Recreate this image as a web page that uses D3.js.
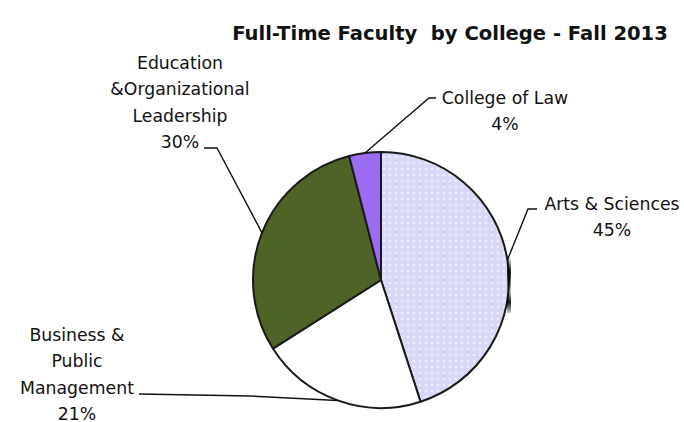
<!DOCTYPE html>
<html lang="en">
<head>
<meta charset="UTF-8">
<title>Full-Time Faculty by College - Fall 2013</title>
<style>
    body { margin: 0; padding: 0; background: #fff; }
    svg { display: block; }
    .lbl { font-family: "DejaVu Sans", "Open Sans", sans-serif; font-size: 17.3px; fill: #111; }
    .title { font-family: "DejaVu Sans", "Open Sans", sans-serif; font-size: 18px; font-weight: bold; fill: #111; }
    .leader { fill: none; stroke: #111; stroke-width: 1.4; }
</style>
</head>
<body>
<div id="chart"></div>
<script src="https://d3js.org/d3.v7.min.js"></script>
<script>
    // data
    const colleges = ["Arts & Sciences", "Business & Public Management", "Education &Organizational Leadership", "College of Law"];
    const shares = [45, 21, 30, 4];
    const labelLines = [
        ["Arts & Sciences", "45%"],
        ["Business &", "Public", "Management", "21%"],
        ["Education", "&Organizational", "Leadership", "30%"],
        ["College of Law", "4%"]
    ];
    const fills = ["url(#dots)", "#ffffff", "#4f6228", "#9b6cf2"];

    const width = 684, height = 422;
    const cx = 381, cy = 280, r = 128;

    // where each label block sits (centre x, first baseline) and where its leader bends
    const labelPos = [
        { x: 612, y: 210, elbow: [[537, 209], [528, 209]] },
        { x: 77, y: 341, elbow: [[139, 394], [250, 396]] },
        { x: 180, y: 69, elbow: [[204, 148], [217, 148]] },
        { x: 505, y: 104, elbow: [[436, 98], [429, 98]] }
    ];
    const lineGap = 26.4;

    const svg = d3.select("#chart").append("svg")
        .attr("width", width)
        .attr("height", height);

    const defs = svg.append("defs");
    const pat = defs.append("pattern")
        .attr("id", "dots")
        .attr("patternUnits", "userSpaceOnUse")
        .attr("width", 6).attr("height", 6);
    pat.append("rect").attr("width", 6).attr("height", 6).attr("fill", "#d7d7f6");
    pat.append("circle").attr("cx", 3).attr("cy", 3).attr("r", 1.3).attr("fill", "#eeeefc");

    const grad = defs.append("linearGradient")
        .attr("id", "edge")
        .attr("x1", 0).attr("y1", 0).attr("x2", 0).attr("y2", 1);
    grad.append("stop").attr("offset", "0%").attr("stop-color", "#000").attr("stop-opacity", 0.1);
    grad.append("stop").attr("offset", "25%").attr("stop-color", "#000").attr("stop-opacity", 0.9);
    grad.append("stop").attr("offset", "60%").attr("stop-color", "#000").attr("stop-opacity", 0.2);
    grad.append("stop").attr("offset", "80%").attr("stop-color", "#000").attr("stop-opacity", 0.9);
    grad.append("stop").attr("offset", "100%").attr("stop-color", "#000").attr("stop-opacity", 0.2);

    const title = svg.append("text")
        .attr("class", "title")
        .attr("x", 450)
        .attr("y", 40)
        .attr("text-anchor", "middle")
        .attr("xml:space", "preserve")
        .text("Full-Time Faculty  by College - Fall 2013");
    // the title runs from about x=232 to x=668 in the original
    const tw = title.node().getComputedTextLength();
    if (tw > 0) title.style("font-size", (18 * 436 / tw).toFixed(2) + "px");

    const pie = d3.pie().sort(null).value(d => d)(shares);
    const arc = d3.arc().innerRadius(0).outerRadius(r);
    const edgeArc = d3.arc().innerRadius(r).outerRadius(r);

    const g = svg.append("g").attr("transform", `translate(${cx},${cy})`);

    g.selectAll("path.slice")
        .data(pie)
        .enter()
        .append("path")
        .attr("class", "slice")
        .attr("d", arc)
        .attr("fill", (d, i) => fills[i])
        .attr("stroke", "#1a1a1a")
        .attr("stroke-width", 2)
        .attr("stroke-linejoin", "round");

    // dark smudge on the right rim, as in the scan
    svg.append("rect")
        .attr("x", 507).attr("y", 258)
        .attr("width", 4).attr("height", 55)
        .attr("fill", "url(#edge)");

    // leaders
    pie.forEach((d, i) => {
        const c = edgeArc.centroid(d);
        const pts = labelPos[i].elbow.concat([[cx + c[0], cy + c[1]]]);
        svg.append("path")
            .attr("class", "leader")
            .attr("d", d3.line()(pts));
    });

    // labels
    labelLines.forEach((lines, i) => {
        const t = svg.append("text")
            .attr("class", "lbl")
            .attr("text-anchor", "middle");
        lines.forEach((s, k) => {
            t.append("tspan")
                .attr("x", labelPos[i].x)
                .attr("y", labelPos[i].y + k * lineGap)
                .text(s);
        });
    });
</script>
</body>
</html>
